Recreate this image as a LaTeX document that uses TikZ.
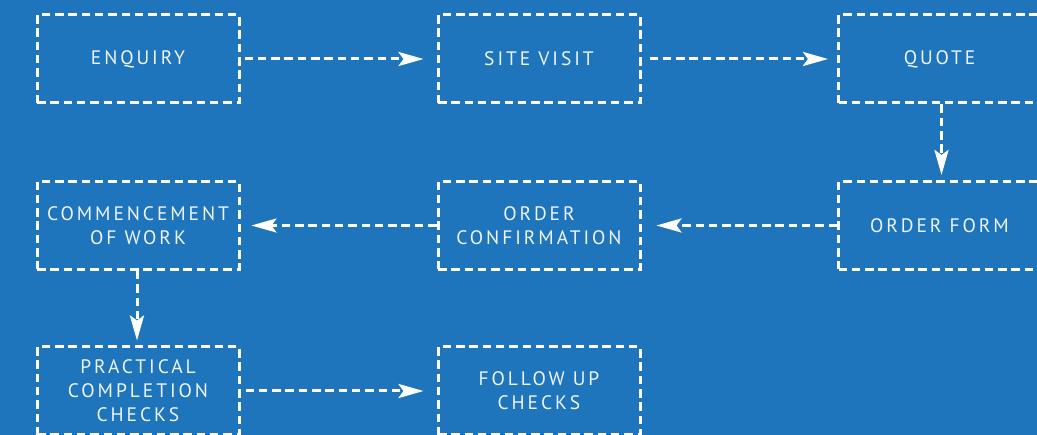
\documentclass[tikz,border=0pt]{standalone}
\usepackage{fontspec}
\setmainfont{PT Sans}[LetterSpace=15]
\usetikzlibrary{arrows.meta}
\definecolor{bg}{RGB}{31,117,188}
\definecolor{ink}{RGB}{238,244,250}
\tikzset{
  stage/.style={draw=white, line width=3pt, dash pattern=on 8.5pt off 4.8pt,
    minimum width=202pt, minimum height=88pt, inner sep=0pt,
    text=ink, align=center, font=\fontsize{19.5pt}{24pt}\selectfont},
  flow/.style={draw=white, line width=3pt, dash pattern=on 8.5pt off 4.8pt,
    -{Stealth[length=25pt,width=14pt,inset=5pt]}}
}
\begin{document}
\begin{tikzpicture}[x=1pt,y=-1pt]
\fill[bg] (0,0) rectangle (1037,435);
\useasboundingbox (0,0) rectangle (1037,435);
\node[stage] (enq) at (138,59) {ENQUIRY};
\node[stage] (site) at (539,59) {SITE VISIT};
\node[stage] (quote) at (939.5,59) {QUOTE};
\node[stage] (form) at (939.5,225.5) {ORDER FORM};
\node[stage] (conf) at (539,225.5) {ORDER\\CONFIRMATION};
\node[stage] (work) at (138,225.5) {COMMENCEMENT\\OF WORK};
\node[stage] (prac) at (138,391) {PRACTICAL\\COMPLETION\\CHECKS};
\node[stage] (follow) at (539,391) {FOLLOW UP\\CHECKS};
\draw[flow, shorten <=4pt, shorten >=13pt] (enq.east) -- (site.west);
\draw[flow, shorten <=8pt, shorten >=9pt] (site.east) -- (quote.west);
\draw[flow, shorten >=5pt] ([xshift=2pt]quote.south) -- ([xshift=2pt]form.north);
\draw[flow, shorten >=15pt] (form.west) -- (conf.west -| conf.east);
\draw[flow, shorten >=11pt] (conf.west) -- (work.east);
\draw[flow, shorten >=5pt] ([xshift=-1pt]work.south) -- ([xshift=-1pt]prac.north);
\draw[flow, shorten <=5pt, shorten >=13pt] (prac.east) -- (follow.west);
\end{tikzpicture}
\end{document}
